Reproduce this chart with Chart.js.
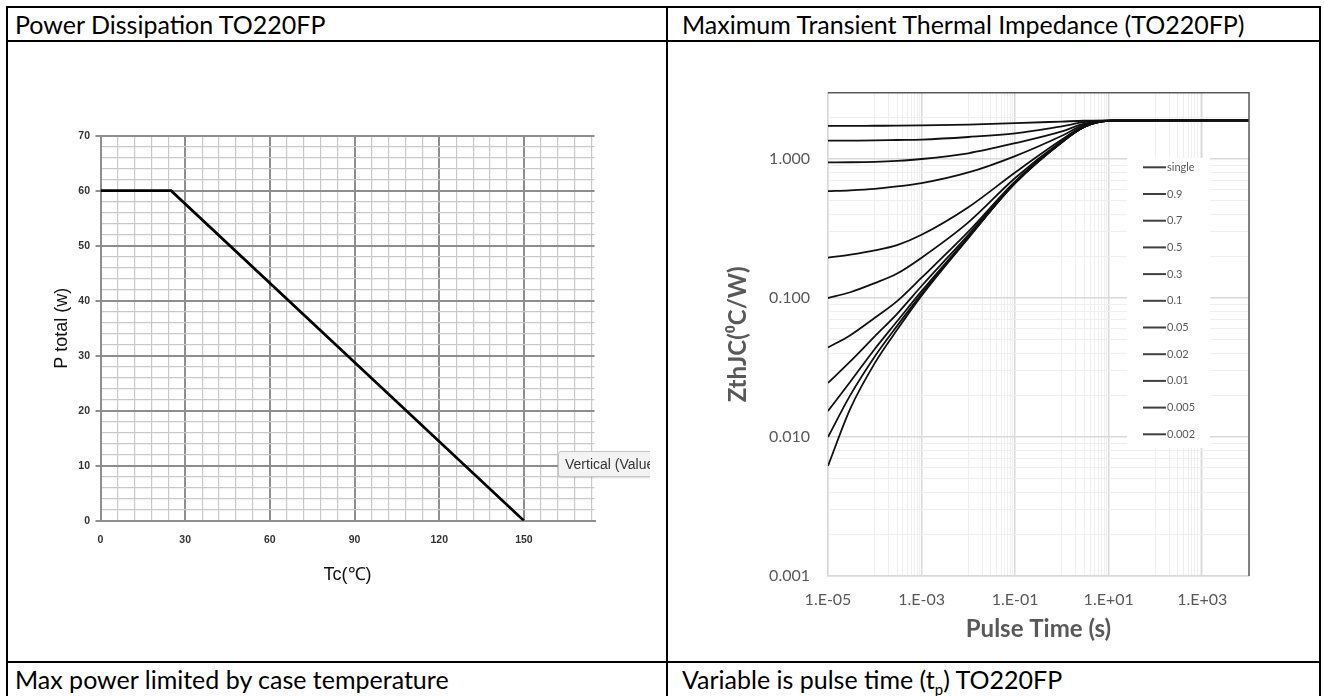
<!DOCTYPE html>
<html>
<head>
<meta charset="utf-8">
<script src="https://cdn.jsdelivr.net/npm/chart.js@4.4.0/dist/chart.umd.min.js"></script>
<style>
    html, body { margin: 0; padding: 0; background: #fff; }
    body { width: 1324px; height: 696px; position: relative; overflow: hidden; font-family: Lato, 'Open Sans', sans-serif; }
    .rule { position: absolute; background: #000; }
    .cell-text { position: absolute; font-size: 25px; line-height: 30px; color: #000; white-space: nowrap; }
    .chart-wrap { position: absolute; }
    #valueTipClip { position: absolute; left: 558px; top: 451px; width: 92px; height: 28px; overflow: hidden; }
    #valueTip { width: 130px; height: 26px; box-sizing: border-box; border: 1px solid #c6c6c6; border-radius: 3px;
        background: #f3f3f3; color: #333; font: 14px 'Liberation Sans', Arial, sans-serif; line-height: 24px;
        padding-left: 6px; white-space: nowrap; box-shadow: 0 1px 2px rgba(0,0,0,0.15); }
</style>
</head>
<body>
    <!-- table rules -->
    <div class="rule" style="left:6px; top:6px; width:1315px; height:2px;"></div>
    <div class="rule" style="left:6px; top:40px; width:1315px; height:2px;"></div>
    <div class="rule" style="left:6px; top:661px; width:1315px; height:2px;"></div>
    <div class="rule" style="left:6px; top:6px; width:2px; height:700px;"></div>
    <div class="rule" style="left:666px; top:6px; width:2px; height:700px;"></div>
    <div class="rule" style="left:1319px; top:6px; width:2px; height:700px;"></div>

    <div class="cell-text" style="left:15px; top:9px;">Power Dissipation TO220FP</div>
    <div class="cell-text" style="left:682px; top:9px;">Maximum Transient Thermal Impedance (TO220FP)</div>
    <div class="cell-text" style="left:15px; top:664px;">Max power limited by case temperature</div>
    <div class="cell-text" style="left:682px; top:664px;">Variable is pulse time (t<sub style="font-size:15px;">p</sub>) TO220FP</div>

    <div class="chart-wrap" style="left:8px; top:44px;">
        <canvas id="powerChart" width="642" height="616"></canvas>
    </div>
    <div id="valueTipClip"><div id="valueTip">Vertical (Value Axis)</div></div>

    <div class="chart-wrap" style="left:668px; top:44px;">
        <canvas id="zthChart" width="651" height="616"></canvas>
    </div>

<script>
// ---- Power dissipation (left) ----
const caseTemp = [0, 25, 150];
const powerTotal = [60, 60, 0];
const tempTicks = [0, 30, 60, 90, 120, 150];
const powerTicks = [0, 10, 20, 30, 40, 50, 60, 70];

// ---- Transient thermal impedance (right) ----
const pulseTime = [1e-5, 3e-5, 1e-4, 3e-4, 1e-3, 1e-2, 1e-1, 1, 3, 10, 100, 1e4];
const zthSingle = [0.0062, 0.016, 0.034, 0.059, 0.104, 0.27, 0.67, 1.32, 1.70, 1.88, 1.90, 1.90];
const zthD090 = [1.73, 1.73, 1.735, 1.737, 1.745, 1.77, 1.81, 1.86, 1.885, 1.895, 1.90, 1.90];
const zthD070 = [1.355, 1.357, 1.36, 1.37, 1.38, 1.44, 1.53, 1.72, 1.84, 1.89, 1.90, 1.90];
const zthD050 = [0.946, 0.948, 0.955, 0.97, 1.0, 1.10, 1.30, 1.58, 1.80, 1.89, 1.90, 1.90];
const zthD030 = [0.587, 0.595, 0.61, 0.635, 0.67, 0.80, 1.05, 1.47, 1.77, 1.89, 1.90, 1.90];
const zthD010 = [0.195, 0.205, 0.22, 0.24, 0.285, 0.45, 0.80, 1.38, 1.73, 1.88, 1.90, 1.90];
const zthD005 = [0.100, 0.11, 0.128, 0.15, 0.195, 0.35, 0.73, 1.35, 1.72, 1.88, 1.90, 1.90];
const zthD002 = [0.044, 0.054, 0.072, 0.095, 0.14, 0.30, 0.69, 1.33, 1.71, 1.88, 1.90, 1.90];
const zthD001 = [0.0245, 0.035, 0.053, 0.077, 0.122, 0.285, 0.68, 1.33, 1.70, 1.88, 1.90, 1.90];
const zthD0005 = [0.0154, 0.025, 0.043, 0.068, 0.112, 0.275, 0.675, 1.32, 1.70, 1.88, 1.90, 1.90];
const zthD0002 = [0.0100, 0.020, 0.038, 0.063, 0.107, 0.272, 0.67, 1.32, 1.70, 1.88, 1.90, 1.90];
const dutyLabels = ['single', '0.9', '0.7', '0.5', '0.3', '0.1', '0.05', '0.02', '0.01', '0.005', '0.002'];
const dutySeries = [zthSingle, zthD090, zthD070, zthD050, zthD030, zthD010, zthD005, zthD002, zthD001, zthD0005, zthD0002];
const timeTicks = [1e-5, 1e-3, 1e-1, 1e1, 1e3];
const timeTickLabels = ['1.E-05', '1.E-03', '1.E-01', '1.E+01', '1.E+03'];
const zthTicks = [0.001, 0.01, 0.1, 1];
const zthTickLabels = ['0.001', '0.010', '0.100', '1.000'];

const sameValue = (a, b) => Math.abs(a - b) <= Math.abs(b) * 1e-6;

// Left chart
const majorGrid = '#8e8e8e';
const minorGrid = '#c9c9c9';
new Chart(document.getElementById('powerChart'), {
    type: 'line',
    data: {
        datasets: [{
            data: caseTemp.map((t, i) => ({ x: t, y: powerTotal[i] })),
            borderColor: '#000',
            borderWidth: 2.7,
            pointRadius: 0,
            tension: 0
        }]
    },
    options: {
        responsive: false,
        animation: false,
        layout: { padding: { left: 0, right: 55.5, top: 91.7, bottom: 74.2 } },
        plugins: { legend: { display: false }, tooltip: { enabled: false } },
        scales: {
            x: {
                type: 'linear', min: 0, max: 175,
                afterBuildTicks: (scale) => {
                    const ticks = [];
                    for (let v = 0; v <= 174; v += 6) ticks.push({ value: v });
                    scale.ticks = ticks;
                },
                afterFit: (scale) => { scale.height = 65.1; },
                grid: {
                    color: (ctx) => tempTicks.includes(ctx.tick.value) ? majorGrid : minorGrid,
                    lineWidth: (ctx) => tempTicks.includes(ctx.tick.value) ? 2 : 1.2,
                    tickLength: 5,
                    tickColor: 'transparent'
                },
                border: { color: majorGrid, width: 2 },
                ticks: {
                    autoSkip: false, maxRotation: 0, padding: 7.7,
                    color: '#333',
                    font: { family: 'Liberation Sans', size: 10.5, weight: 'bold' },
                    callback: (v) => tempTicks.includes(v) ? String(v) : ''
                },
                title: {
                    display: true, text: 'Tc(\u2103)', color: '#111',
                    font: { family: 'Liberation Sans', size: 18 },
                    padding: { top: 0, bottom: 0 }
                }
            },
            y: {
                type: 'linear', min: 0, max: 70,
                afterBuildTicks: (scale) => {
                    const ticks = [];
                    for (let v = 0; v <= 70; v += 2) ticks.push({ value: v });
                    scale.ticks = ticks;
                },
                afterFit: (scale) => { scale.width = 92.5; },
                grid: {
                    color: (ctx) => powerTicks.includes(ctx.tick.value) ? majorGrid : minorGrid,
                    lineWidth: (ctx) => powerTicks.includes(ctx.tick.value) ? 2 : 1.2,
                    tickLength: 5,
                    tickColor: (ctx) => powerTicks.includes(ctx.tick.value) ? majorGrid : 'transparent'
                },
                border: { color: majorGrid, width: 2 },
                ticks: {
                    autoSkip: false, padding: 5.5,
                    color: '#333',
                    font: { family: 'Liberation Sans', size: 10.5, weight: 'bold' },
                    callback: (v) => powerTicks.includes(v) ? String(v) : ''
                },
                title: {
                    display: true, text: 'P total (w)', color: '#111',
                    font: { family: 'Liberation Sans', size: 18 },
                    padding: { top: 43.2, bottom: 0 }
                }
            }
        }
    }
});

// Right chart
const zthMajorGrid = '#d9d9d9';
const zthMinorGrid = '#efefef';

const frameAndLegend = {
    id: 'frameAndLegend',
    beforeDatasetsDraw(chart) {
        const { ctx, chartArea } = chart;
        ctx.save();
        // legend panel sits inside the plot
        const boxX = chartArea.left + 299, boxY = chartArea.top + 65.3;
        ctx.fillStyle = '#fff';
        ctx.fillRect(boxX, boxY, 83, 290);
        ctx.font = "11px Lato";
        ctx.textBaseline = 'middle';
        dutyLabels.forEach((label, i) => {
            const y = boxY + 9.3 + i * 26.7;
            ctx.strokeStyle = '#404040';
            ctx.lineWidth = 2;
            ctx.beginPath();
            ctx.moveTo(boxX + 16, y);
            ctx.lineTo(boxX + 39, y);
            ctx.stroke();
            ctx.fillStyle = '#595959';
            ctx.fillText(label, boxX + 40, y);
        });
        ctx.restore();
    },
    afterDraw(chart) {
        const { ctx, chartArea } = chart;
        ctx.save();
        ctx.strokeStyle = '#5a5a5a';
        ctx.lineWidth = 1.5;
        ctx.beginPath();
        ctx.moveTo(chartArea.left, chartArea.top);
        ctx.lineTo(chartArea.right, chartArea.top);
        ctx.lineTo(chartArea.right, chartArea.bottom);
        ctx.stroke();
        ctx.restore();
    }
};

new Chart(document.getElementById('zthChart'), {
    type: 'line',
    data: {
        datasets: dutySeries.map((series, i) => ({
            label: dutyLabels[i],
            data: pulseTime.map((t, j) => ({ x: t, y: series[j] })),
            borderColor: '#111',
            borderWidth: 1.8,
            pointRadius: 0,
            cubicInterpolationMode: 'monotone'
        }))
    },
    options: {
        responsive: false,
        animation: false,
        layout: { padding: { left: 0, right: 70, top: 48.7, bottom: 16.6 } },
        plugins: { legend: { display: false }, tooltip: { enabled: false } },
        scales: {
            x: {
                type: 'logarithmic', min: 1e-5, max: 1e4,
                afterBuildTicks: (scale) => {
                    const ticks = [];
                    timeTicks.forEach((m) => {
                        ticks.push({ value: m });
                        for (let k = 1; k <= 9; k++) {
                            const v = k * m * 10;
                            if (v <= 1e4 * 1.0001) ticks.push({ value: v });
                        }
                    });
                    scale.ticks = ticks;
                },
                afterFit: (scale) => { scale.height = 67.4; },
                grid: {
                    drawTicks: false,
                    color: (ctx) => timeTicks.some(m => sameValue(ctx.tick.value, m)) ? zthMajorGrid : zthMinorGrid,
                    lineWidth: (ctx) => timeTicks.some(m => sameValue(ctx.tick.value, m)) ? 1.5 : 1
                },
                border: { color: zthMajorGrid, width: 1.5 },
                ticks: {
                    autoSkip: false, maxRotation: 0, padding: 14.4,
                    color: '#595959',
                    font: { family: 'Lato', size: 16 },
                    callback: (v) => {
                        const idx = timeTicks.findIndex(m => sameValue(v, m));
                        return idx >= 0 ? timeTickLabels[idx] : '';
                    }
                },
                title: {
                    display: true, text: 'Pulse Time (s)', color: '#595959',
                    font: { family: 'Lato', size: 24, weight: 'bold' },
                    padding: { top: 0, bottom: 0 }
                }
            },
            y: {
                type: 'logarithmic', min: 0.001, max: 3,
                afterBuildTicks: (scale) => {
                    const ticks = [];
                    zthTicks.forEach((m) => {
                        ticks.push({ value: m });
                        for (let k = 2; k <= 9; k++) {
                            if (k * m <= 3) ticks.push({ value: k * m });
                        }
                    });
                    scale.ticks = ticks;
                },
                afterFit: (scale) => { scale.width = 160; },
                grid: {
                    drawTicks: false,
                    color: (ctx) => zthTicks.some(m => sameValue(ctx.tick.value, m)) ? zthMajorGrid : zthMinorGrid,
                    lineWidth: (ctx) => zthTicks.some(m => sameValue(ctx.tick.value, m)) ? 1.5 : 1
                },
                border: { color: zthMajorGrid, width: 1.5 },
                ticks: {
                    autoSkip: false, padding: 18,
                    color: '#595959',
                    font: { family: 'Lato', size: 16 },
                    callback: (v) => {
                        const idx = zthTicks.findIndex(m => sameValue(v, m));
                        return idx >= 0 ? zthTickLabels[idx] : '';
                    }
                },
                title: {
                    display: true, text: 'ZthJC(\u2070C/W)', color: '#595959',
                    font: { family: 'Lato', size: 24, weight: 'bold' },
                    padding: { top: 56.1, bottom: 0 }
                }
            }
        }
    },
    plugins: [frameAndLegend]
});
</script>
</body>
</html>
